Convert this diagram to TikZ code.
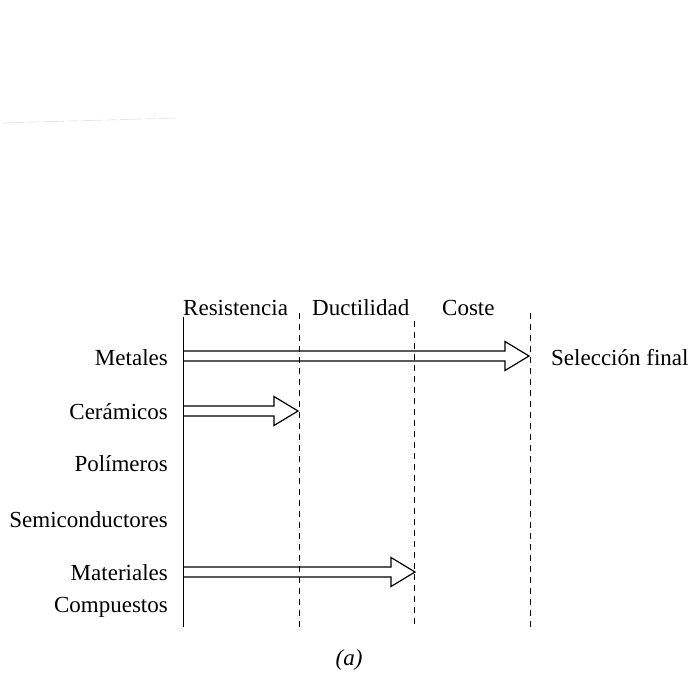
\documentclass[tikz,border=0pt]{standalone}
\usepackage{fontspec}
\setmainfont{Liberation Serif}
\usetikzlibrary{calc}

% hollow block arrow from a tail coordinate to a tip coordinate (same height)
\newcommand\hollowarrow[2]{%
  \draw[blockline] let \p1=(#1), \p2=(#2) in
    (\x1,\y1+5pt) -- (\x2-24pt,\y1+5pt) -- (\x2-24pt,\y1+14.5pt) -- (\x2,\y2)
    -- (\x2-24pt,\y1-14.5pt) -- (\x2-24pt,\y1-5pt) -- (\x1,\y1-5pt);}

\begin{document}
\begin{tikzpicture}[x=1pt,y=-1pt,
  lbl/.style={font=\fontsize{23}{27}\selectfont, inner sep=0pt},
  axisline/.style={line width=1pt},
  stage/.style={line width=1pt, dash pattern=on 6pt off 5pt},
  blockline/.style={line width=1.2pt, line join=miter},
  smudge/.style={line width=0.7pt, gray!22, dash pattern=on 22pt off 4pt on 10pt off 3pt}]
\useasboundingbox (0,0) rectangle (691,677);

% faint stray line at the top left
\draw[smudge] (3,123) -- (175,118);

% criteria headings
\node[lbl, anchor=base west] (res) at (183,315) {Resistencia};
\node[lbl, anchor=base west] (duc) at (312,315) {Ductilidad};
\node[lbl, anchor=base west] (cos) at (442,315) {Coste};

% start line and stage limits
\coordinate (ax-top) at (183,317);
\coordinate (ax-bot) at (183,627);
\draw[axisline] (ax-top) -- (ax-bot);

\coordinate (s1-top) at (299,313);
\coordinate (s1-bot) at (299,627);
\coordinate (s2-top) at (414,321);
\coordinate (s2-bot) at (414,627);
\coordinate (s3-top) at (530,313);
\coordinate (s3-bot) at (530,627);
\draw[stage] (s1-top) -- (s1-bot);
\draw[stage] (s2-top) -- (s2-bot);
\draw[stage] (s3-top) -- (s3-bot);

% material families
\node[lbl, anchor=base east] (met) at (168,365) {Metales};
\node[lbl, anchor=base east] (cer) at (168,419) {Cerámicos};
\node[lbl, anchor=base east] (pol) at (168,471) {Polímeros};
\node[lbl, anchor=base east] (sem) at (168,527) {Semiconductores};
\node[lbl, anchor=base east] (mat) at (168,580) {Materiales};
\node[lbl, anchor=base east] (com) at (168,612) {Compuestos};

\node[lbl, anchor=base west] (sel) at (551,365) {Selección final};

% how far each family gets
\coordinate (met-tail) at (183,356);
\coordinate (met-tip)  at (529,356);
\coordinate (cer-tail) at (183,411);
\coordinate (cer-tip)  at (298,411);
\coordinate (mat-tail) at (183,572);
\coordinate (mat-tip)  at (415,572);
\hollowarrow{met-tail}{met-tip}
\hollowarrow{cer-tail}{cer-tip}
\hollowarrow{mat-tail}{mat-tip}

\node[lbl, anchor=base, font=\fontsize{23}{27}\selectfont\itshape] (cap) at (349,665) {(a)};
\end{tikzpicture}
\end{document}
